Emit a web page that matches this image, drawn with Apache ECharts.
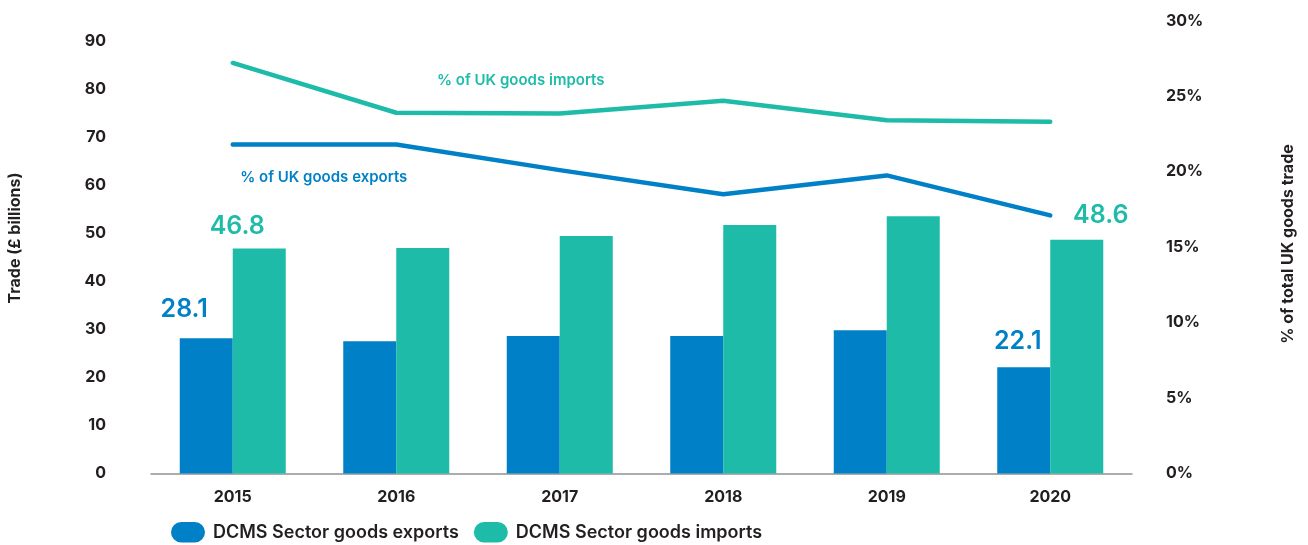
<!DOCTYPE html>
<html>
<head>
<meta charset="utf-8">
<script src="https://cdn.jsdelivr.net/npm/echarts@6/dist/echarts.min.js"></script>
<style>
  html, body { margin: 0; padding: 0; background: #ffffff; }
  #chart { width: 1308px; height: 545px; }
</style>
</head>
<body>
<div id="chart"></div>
<script>
// DCMS Sector goods trade, 2015-2020
const years = ['2015', '2016', '2017', '2018', '2019', '2020'];
const exportsBn = [28.1, 27.5, 28.6, 28.6, 29.8, 22.1];   // £ billions
const importsBn = [46.8, 46.9, 49.4, 51.7, 53.5, 48.6];   // £ billions
const exportsShare = [21.8, 21.8, 20.1, 18.5, 19.75, 17.1]; // % of UK goods exports
const importsShare = [27.2, 23.9, 23.85, 24.7, 23.4, 23.3]; // % of UK goods imports

const BLUE = '#0080c6';
const TEAL = '#1dbba8';
const INK = '#231f20';
const FONT = 'Inter, "Noto Sans", sans-serif';

// value labels are printed only on the first and last year, nudged per bar
const exportLabelOffsets = { 0: [-22, -11], 5: [-6, -8] };
const importLabelOffsets = { 0: [-22, -4], 5: [24, -7] };

function barData(values, offsets, color) {
  return values.map((v, i) => {
    if (!(i in offsets)) return v;
    return {
      value: v,
      label: {
        show: true,
        position: 'top',
        offset: offsets[i],
        color: color,
        fontSize: 25,
        fontWeight: 600,
        fontFamily: FONT,
        formatter: (p) => p.value.toFixed(1)
      }
    };
  });
}

function lineData(values, labelIndex, text, offset, color) {
  return values.map((v, i) => {
    if (i !== labelIndex) return v;
    return {
      value: v,
      label: {
        show: true,
        position: 'inside',
        offset: offset,
        formatter: text,
        color: color,
        fontSize: 15,
        fontWeight: 600,
        fontFamily: FONT
      }
    };
  });
}

const chart = echarts.init(document.getElementById('chart'), null, { renderer: 'canvas' });

const pill = 'path://M10,0 H23 A10,10 0 0 1 23,20 H10 A10,10 0 0 1 10,0 Z';

const tickText = { color: INK, fontSize: 16, fontWeight: 'bold', fontFamily: FONT };

chart.setOption({
  animation: false,
  backgroundColor: '#ffffff',
  grid: [
    { left: 151, right: 176, top: 40.7, bottom: 71.5 },
    { left: 151, right: 176, top: 20.7, bottom: 71.5 }
  ],
  legend: {
    left: 166,
    top: 517,
    itemWidth: 34,
    itemHeight: 21,
    itemGap: 15,
    data: [
      { name: 'DCMS Sector goods exports', icon: pill },
      { name: 'DCMS Sector goods imports', icon: pill }
    ],
    textStyle: { color: INK, fontSize: 18, fontWeight: 600, fontFamily: FONT, padding: [0, 0, 0, 3] }
  },
  xAxis: [
    {
      type: 'category',
      gridIndex: 0,
      data: years,
      axisLine: { lineStyle: { color: '#8f9193', width: 1.5 } },
      axisTick: { show: false },
      axisLabel: Object.assign({ margin: 16 }, tickText)
    },
    {
      type: 'category',
      gridIndex: 1,
      data: years,
      show: false
    }
  ],
  yAxis: [
    {
      type: 'value',
      gridIndex: 0,
      position: 'left',
      min: 0,
      max: 90,
      interval: 10,
      axisLine: { show: false },
      axisTick: { show: false },
      splitLine: { show: false },
      axisLabel: Object.assign({ margin: 45 }, tickText)
    },
    {
      type: 'value',
      gridIndex: 1,
      position: 'right',
      min: 0,
      max: 30,
      interval: 5,
      axisLine: { show: false },
      axisTick: { show: false },
      splitLine: { show: false },
      axisLabel: Object.assign({ margin: 34, formatter: '{value}%' }, tickText)
    }
  ],
  graphic: [
    {
      type: 'text',
      x: 15, y: 238,
      rotation: Math.PI / 2,
      style: {
        text: 'Trade (£ billions)',
        fill: INK, fontSize: 16, fontWeight: 'bold', fontFamily: FONT,
        align: 'center', verticalAlign: 'middle'
      }
    },
    {
      type: 'text',
      x: 1288, y: 244,
      rotation: Math.PI / 2,
      style: {
        text: '% of total UK goods trade',
        fill: INK, fontSize: 16, fontWeight: 'bold', fontFamily: FONT,
        align: 'center', verticalAlign: 'middle'
      }
    }
  ],
  series: [
    {
      name: 'DCMS Sector goods exports',
      type: 'bar',
      xAxisIndex: 0,
      yAxisIndex: 0,
      barWidth: 53,
      barGap: '0%',
      itemStyle: { color: BLUE },
      data: barData(exportsBn, exportLabelOffsets, BLUE)
    },
    {
      name: 'DCMS Sector goods imports',
      type: 'bar',
      xAxisIndex: 0,
      yAxisIndex: 0,
      barWidth: 53,
      barGap: '0%',
      itemStyle: { color: TEAL },
      data: barData(importsBn, importLabelOffsets, TEAL)
    },
    {
      name: '% of UK goods imports',
      type: 'line',
      xAxisIndex: 1,
      yAxisIndex: 1,
      symbol: 'circle',
      symbolSize: 1,
      itemStyle: { color: TEAL },
      lineStyle: { color: TEAL, width: 4.5, cap: 'round', join: 'round' },
      z: 5,
      data: lineData(importsShare, 2, '% of UK goods imports', [-39, -33], TEAL)
    },
    {
      name: '% of UK goods exports',
      type: 'line',
      xAxisIndex: 1,
      yAxisIndex: 1,
      symbol: 'circle',
      symbolSize: 1,
      itemStyle: { color: BLUE },
      lineStyle: { color: BLUE, width: 4.5, cap: 'round', join: 'round' },
      z: 5,
      data: lineData(exportsShare, 0, '% of UK goods exports', [91, 33], BLUE)
    }
  ]
});
</script>
</body>
</html>
